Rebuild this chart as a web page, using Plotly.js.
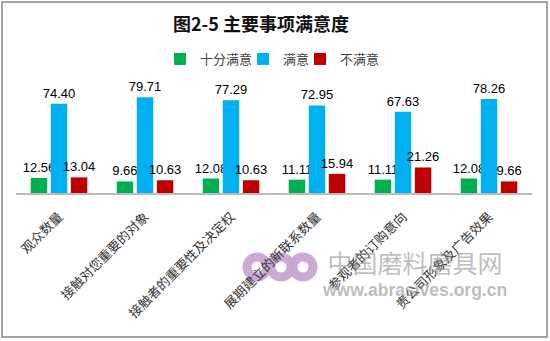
<!DOCTYPE html>
<html>
<head>
<meta charset="utf-8">
<script src="https://cdn.plot.ly/plotly-3.0.1.min.js"></script>
<style>
html,body{margin:0;padding:0;background:#fff;}
#chart{width:550px;height:341px;}
</style>
</head>
<body>
<div id="chart"></div>
<script>
const categories = ["观众数量", "接触对您重要的对象", "接触者的重要性及决定权", "展期建立的新联系数量", "参观者的订购意向", "贵公司形象及广告效果"];
const verySatisfied = [12.56, 9.66, 12.08, 11.11, 11.11, 12.08];
const satisfied = [74.40, 79.71, 77.29, 72.95, 67.63, 78.26];
const dissatisfied = [13.04, 10.63, 10.63, 15.94, 21.26, 9.66];
const seriesNames = ["十分满意", "满意", "不满意"];
const seriesColors = ["#00B050", "#00B0F0", "#C00000"];

const legendIds = ['legend', 'legend2', 'legend3'];
const legendLefts = [160, 243, 300];

const allSeries = [verySatisfied, satisfied, dissatisfied];
const traces = allSeries.map((vals, i) => ({
  type: 'bar',
  name: seriesNames[i],
  legend: legendIds[i],
  x: categories,
  y: vals,
  marker: {color: seriesColors[i]},
  text: vals.map(v => v.toFixed(2)),
  textposition: 'outside',
  constraintext: 'none',
  textfont: {family: 'Arial, Liberation Sans, sans-serif', size: 13, color: '#000'},
  cliponaxis: false,
  hoverinfo: 'skip'
}));

const layout = {
  width: 550, height: 341,
  margin: {l: 16, r: 18, t: 73, b: 148, pad: 0},
  paper_bgcolor: '#fff', plot_bgcolor: 'rgba(0,0,0,0)',
  font: {family: '"Noto Sans CJK SC", sans-serif'},
  title: {text: '<b>图2-5 主要事项满意度</b>', x: (261-16)/516, xref: 'paper', xanchor: 'center', y: 1-25/341, yanchor: 'middle',
          font: {family: '"Noto Sans CJK SC", sans-serif', size: 18, color: '#111'}},
  barmode: 'group',
  bargap: 0.30,
  bargroupgap: 0.18,
  showlegend: true,
  xaxis: {
    type: 'category', showline: true, linecolor: '#BBBBBB', linewidth: 2,
    ticks: '', showgrid: false, tickangle: -45,
    ticklabelstandoff: 9,
    tickfont: {family: '"Noto Sans CJK SC", serif', size: 13, color: '#333'}
  },
  yaxis: {range: [0, 100], visible: false, showgrid: false, zeroline: false},
  shapes: [],
  annotations: [
    {text: '<span style="font-family:\'Noto Sans CJK SC\', sans-serif;font-size:25px">中国磨料磨具网</span><br><b>www.abrasives.org.cn</b>',
     xref: 'paper', yref: 'paper', x: (414-16)/516, y: (193-272)/120,
     xanchor: 'center', yanchor: 'middle', align: 'center',
     showarrow: false, font: {family: 'Arial, sans-serif', size: 17.5, color: 'rgba(140,140,140,0.58)'}}
  ]
};
legendIds.forEach((id, i) => {
  layout[id] = {orientation: 'h', x: (legendLefts[i] - 16)/516, xanchor: 'left',
    y: (193-59)/120, yanchor: 'middle', bgcolor: 'rgba(0,0,0,0)',
    font: {family: '"Noto Sans CJK SC", sans-serif', size: 13, color: '#444'},
    itemwidth: 30};
});
// border rectangle in paper coords: plot area x 16..532, y 73..193
layout.shapes.push({type: 'rect', xref: 'paper', yref: 'paper',
  x0: (2-16)/516, x1: (547-16)/516, y0: (193-337)/120, y1: (193-2)/120,
  line: {color: '#888', width: 1.5}, fillcolor: 'rgba(0,0,0,0)', layer: 'below'});
// logo rings
const ringCenters = [257, 281, 303];
ringCenters.forEach((cx) => {
  layout.shapes.push({type: 'circle', xref: 'paper', yref: 'paper',
    x0: (cx-10-16)/516, x1: (cx+10-16)/516, y0: (193-277)/120, y1: (193-257)/120,
    line: {color: 'rgba(200,165,210,0.95)', width: 9}, fillcolor: 'rgba(0,0,0,0)', layer: 'below'});
});

Plotly.newPlot('chart', traces, layout, {displayModeBar: false, staticPlot: true});
</script>
</body>
</html>
